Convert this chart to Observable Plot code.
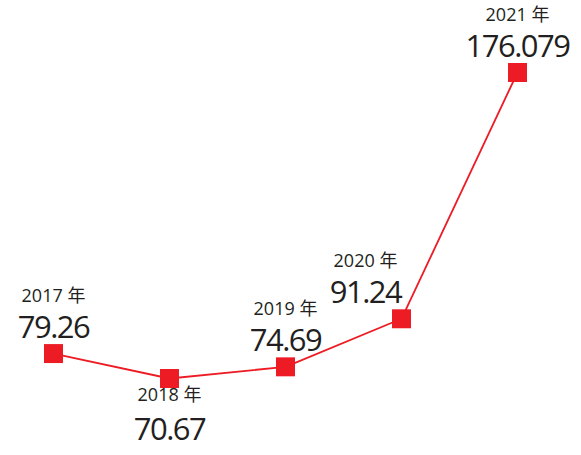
<!DOCTYPE html>
<html>
<head>
<meta charset="utf-8">
<script src="https://cdn.jsdelivr.net/npm/d3@7"></script>
<script src="https://cdn.jsdelivr.net/npm/@observablehq/plot@0.6"></script>
<style>
  html, body { margin: 0; padding: 0; background: #fff; }
  #chart svg text { font-family: "Open Sans", "Noto Sans CJK SC", sans-serif; }
  .val { letter-spacing: -1.5px; }
</style>
</head>
<body>
<div id="chart"></div>
<script>
const years = [2017, 2018, 2019, 2020, 2021];
const values = [79.26, 70.67, 74.69, 91.24, 176.079];
const valueLabels = ["79.26", "70.67", "74.69", "91.24", "176.079"];
const yearSuffix = " 年";

const data = years.map((y, i) => ({year: y, value: values[i], label: valueLabels[i], yl: y + yearSuffix}));
const red = "#ed1c24";
const ink = "#231f20";

const above = data.filter(d => d.year !== 2018 && d.year !== 2020);
const shifted = data.filter(d => d.year === 2020);
const below = data.filter(d => d.year === 2018);

const chart = Plot.plot({
  width: 581,
  height: 455,
  marginLeft: 53,
  marginRight: 64,
  marginTop: 72,
  marginBottom: 77,
  x: {type: "point", domain: years, padding: 0, axis: null},
  y: {domain: [d3.min(values), d3.max(values)], axis: null},
  marks: [
    Plot.line(data, {x: "year", y: "value", stroke: red, strokeWidth: 1.8}),
    Plot.dot(data, {x: "year", y: "value", symbol: "square", r: 10.7, fill: red, stroke: "none"}),
    // labels above
    Plot.text(above, {x: "year", y: "value", text: "label", fill: ink, fontSize: 31, lineAnchor: "bottom", dy: -16, className: "val"}),
    Plot.text(above, {x: "year", y: "value", text: "yl", fill: ink, fontSize: 18, lineAnchor: "bottom", dy: -52}),
    Plot.text(shifted, {x: "year", y: "value", text: "label", fill: ink, fontSize: 31, lineAnchor: "bottom", dy: -16, dx: -36, className: "val"}),
    Plot.text(shifted, {x: "year", y: "value", text: "yl", fill: ink, fontSize: 18, lineAnchor: "bottom", dy: -52, dx: -36}),
    // labels below
    Plot.text(below, {x: "year", y: "value", text: "yl", fill: ink, fontSize: 18, lineAnchor: "top", dy: 10}),
    Plot.text(below, {x: "year", y: "value", text: "label", fill: ink, fontSize: 31, lineAnchor: "top", dy: 39, className: "val"})
  ]
});
document.getElementById("chart").appendChild(chart);
</script>
</body>
</html>
